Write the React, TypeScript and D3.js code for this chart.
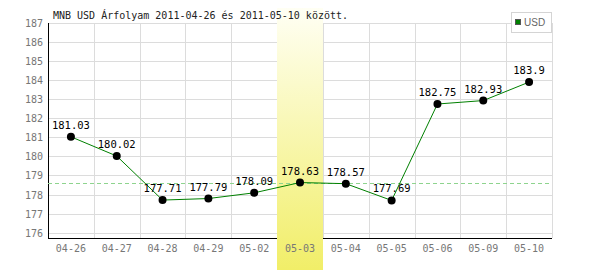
import React from "react";
import * as d3 from "d3";

const categories = ["04-26", "04-27", "04-28", "04-29", "05-02", "05-03", "05-04", "05-05", "05-06", "05-09", "05-10"];
const values = [181.03, 180.02, 177.71, 177.79, 178.09, 178.63, 178.57, 177.69, 182.75, 182.93, 183.9];
const yTicks = [176, 177, 178, 179, 180, 181, 182, 183, 184, 185, 186, 187];
const highlightCategory = "05-03";
const referenceValue = 178.63;
const title = "MNB USD Árfolyam 2011-04-26 és 2011-05-10 között.";
const seriesName = "USD";

const W = 600, H = 270;
const left = 48, right = 552, top = 23, bottom = 238;
const mono = "'DejaVu Sans Mono', monospace";

export default function App() {
  const x = d3.scaleBand<string>().domain(categories).range([left, right]).paddingInner(0).paddingOuter(0);
  const y = d3.scaleLinear().domain([175.72, 187]).range([bottom, top]);
  const cx = (c: string) => (x(c) as number) + x.bandwidth() / 2;
  const line = d3.line<number>().x((_, i) => cx(categories[i])).y((v) => y(v));
  const hx = x(highlightCategory) as number;

  return (
    <svg width={W} height={H} style={{ position: "absolute", left: 0, top: 0, background: "#fff" }}>
      <defs>
        <linearGradient id="hl" x1="0" y1="0" x2="0" y2="1">
          <stop offset="0%" stopColor="#fffff4" />
          <stop offset="100%" stopColor="#f1ee68" />
        </linearGradient>
      </defs>
      {yTicks.map((t) => (
        <line key={"h" + t} x1={left} x2={right} y1={Math.round(y(t)) + 0.5} y2={Math.round(y(t)) + 0.5} stroke="#dcdcdc" />
      ))}
      {categories.map((c) => (
        <line key={"v" + c} x1={Math.round((x(c) as number) + x.bandwidth()) + 0.5} x2={Math.round((x(c) as number) + x.bandwidth()) + 0.5} y1={top} y2={bottom} stroke="#dcdcdc" />
      ))}
      <line x1={left + 0.5} x2={left + 0.5} y1={top} y2={bottom + 1} stroke="#000" />
      <line x1={left} x2={right} y1={bottom + 0.5} y2={bottom + 0.5} stroke="#000" />
      <rect x={Math.round(hx)} y={8} width={Math.round(x.bandwidth())} height={H - 8} fill="url(#hl)" />
      <line x1={left} x2={right} y1={Math.round(y(referenceValue)) + 0.5} y2={Math.round(y(referenceValue)) + 0.5} stroke="#8ed48e" strokeDasharray="4,3" />
      {yTicks.map((t) => (
        <text key={"yl" + t} x={43} y={y(t) + 4} textAnchor="end" fontFamily={mono} fontSize={10} fill="#777">{t}</text>
      ))}
      {categories.map((c) => (
        <text key={"xl" + c} x={cx(c)} y={252} textAnchor="middle" fontFamily={mono} fontSize={10} fill="#777">{c}</text>
      ))}
      <path d={line(values) || ""} fill="none" stroke="#008000" strokeWidth={1} />
      {values.map((v, i) => (
        <circle key={"p" + i} cx={cx(categories[i])} cy={y(v)} r={4} fill="#000" />
      ))}
      {values.map((v, i) => (
        <text key={"vl" + i} x={cx(categories[i])} y={y(v) - 8} textAnchor="middle" fontFamily={mono} fontSize={10.5} fill="#000">{String(v)}</text>
      ))}
      <text x={53} y={19} fontFamily={mono} fontSize={10} fill="#222">{title}</text>
      <rect x={511.5} y={12.5} width={40} height={20} fill="#fff" stroke="#d4d4d4" />
      <rect x={515.5} y={19.5} width={5} height={5} fill="#008000" stroke="#555" />
      <text x={524} y={26} fontFamily="'Liberation Sans', Arial, sans-serif" fontSize={10} fill="#666">{seriesName}</text>
    </svg>
  );
}
